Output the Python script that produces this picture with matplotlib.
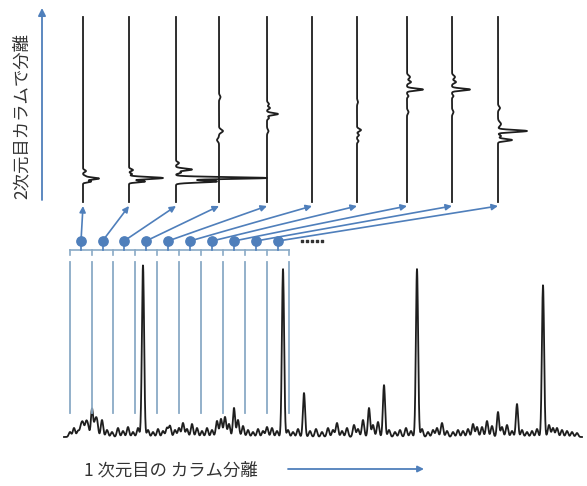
import numpy as np
import matplotlib
matplotlib.use("Agg")
import matplotlib.pyplot as plt

plt.rcParams['font.family'] = ['Noto Sans CJK JP', 'DejaVu Sans']

# ---- data (pixel units of the 587x486 canvas) ----
# first dimension chromatogram: peak position, peak top (y)
base_y = 437
p1_x = [70, 74, 78, 81, 83, 86, 88, 92, 95, 97, 102, 107, 112, 118, 123, 128, 133, 138,
        143, 148, 153, 158, 163, 167, 170, 175, 179, 183, 187, 192, 197, 202, 207, 212,
        217, 221, 225, 229, 234, 238, 243, 248, 253, 258, 263, 267, 272, 277, 283, 288,
        293, 298, 304, 310, 316, 322, 328, 333, 337, 342, 347, 354, 358, 363, 369, 373,
        378, 384, 389, 395, 400, 406, 411, 417, 422, 428, 433, 437, 442, 447, 453, 458,
        463, 468, 473, 477, 482, 487, 492, 498, 502, 507, 512, 517, 522, 527, 532, 537,
        543, 549, 553, 557, 562, 567, 572, 577]
p1_top = [432, 428, 431, 427, 425, 424, 427, 409, 424, 422, 420, 430, 432, 428, 431, 427, 432, 428,
          265, 430, 432, 429, 431, 428, 426, 430, 428, 423, 429, 424, 428, 431, 428, 430,
          421, 419, 417, 424, 408, 420, 426, 430, 432, 429, 431, 427, 428, 431, 269, 430,
          432, 429, 393, 431, 429, 432, 428, 430, 423, 431, 428, 425, 429, 420, 408, 425,
          422, 385, 430, 432, 430, 428, 431, 269, 429, 432, 430, 428, 423, 431, 432, 430,
          431, 429, 424, 427, 427, 421, 426, 412, 427, 425, 431, 404, 430, 432, 431, 429,
          285, 425, 428, 428, 430, 431, 432, 433]

# fraction boundaries on the first dimension, and the transfer points
frac_edges = [70, 92, 113, 135, 157, 179, 201, 223, 245, 267, 289]
bracket_y = 250
dot_y = 241
frac_top, frac_bottom = 262, 413

# second dimension traces: x position, then (y, deflection, width) peaks
trace_x = [83, 129, 176, 219, 267, 312, 357, 407, 452, 498]
trace_top, trace_bottom = 17, 202
trace_peaks = [
    [(171, 3, 1.0), (176, 2, 0.8), (178.5, 16, 1.0), (181.5, 8, 0.8)],
    [(170, 4, 1.0), (174, 3, 0.8), (178, 34, 1.0), (181.5, 16, 0.8)],
    [(163, 3, 1.0), (169.5, 16, 1.0), (172.5, 5, 0.8), (178, 91, 0.9), (181.5, 41, 1.0)],
    [(97, 1.5, 1.5), (131, 4, 1.5), (140, -2, 1.5)],
    [(104, 2, 1.2), (108, 3, 1.0), (114, 11, 1.0), (118, 2, 1.0), (131, 1.5, 1.5)],
    [],
    [(102, 1, 1.5), (130, 4, 1.2), (135, 2, 1.0), (141, 1.5, 1.0)],
    [(77, 3, 1.5), (82, 4, 1.2), (89.5, 16, 1.0), (96, 1.5, 1.0), (112, 1.5, 1.5)],
    [(77, 3, 1.5), (82, 4, 1.2), (89.5, 18, 1.0), (96, 1.5, 1.0), (112, 1.5, 1.5)],
    [(108, 2, 1.5), (124, 3, 2.0), (131, 29, 1.0), (136, 3, 1.0), (140, 14, 1.0)],
]

blue = '#4f7fbb'
frac_blue = '#8aaac6'
ink = '#1e1e1e'

fig = plt.figure(figsize=(5.87, 4.86), dpi=100)
ax = fig.add_axes([0, 0, 1, 1])
ax.set_xlim(0, 587)
ax.set_ylim(486, 0)
ax.axis('off')

# first dimension chromatogram
xs = np.linspace(64, 582, 2600)
ys = np.full_like(xs, float(base_y))
for px, pt in zip(p1_x, p1_top):
    h = base_y - pt
    w = 1.1 if h > 20 else 1.2
    ys -= h * np.exp(-0.5 * ((xs - px) / w) ** 2)
ax.plot(xs, ys, color=ink, lw=1.3)

# fraction lines and bracket
for ex in frac_edges:
    ax.plot([ex, ex], [frac_top, frac_bottom], color=frac_blue, lw=1.3)
    ax.plot([ex, ex], [bracket_y, bracket_y + 5], color=frac_blue, lw=1.2)
ax.plot([frac_edges[0], frac_edges[-1]], [bracket_y, bracket_y], color=frac_blue, lw=1.2)

# transfer points and arrows
mids = [(a + b) / 2 for a, b in zip(frac_edges[:-1], frac_edges[1:])]
for mx, tx in zip(mids, trace_x):
    ax.plot([mx, mx], [dot_y, bracket_y], color=blue, lw=1.2)
    ax.annotate('', xy=(tx, trace_bottom + 4), xytext=(mx, dot_y),
                arrowprops=dict(arrowstyle='-|>', color=blue, lw=1.2,
                                mutation_scale=9, shrinkA=0, shrinkB=0))
ax.scatter(mids, [dot_y] * len(mids), s=45, color=blue, zorder=5)
ax.scatter(np.arange(302, 327, 5), [dot_y] * 5, s=3, color='#333333', marker='s')

# second dimension traces
yy = np.linspace(trace_top, trace_bottom, 1800)
for tx, peaks in zip(trace_x, trace_peaks):
    xx = np.full_like(yy, float(tx))
    for py, d, w in peaks:
        xx += d * np.exp(-0.5 * ((yy - py) / w) ** 2)
    ax.plot(xx, yy, color=ink, lw=1.3)

# axes arrows and labels
ax.annotate('', xy=(42, 8), xytext=(42, 200),
            arrowprops=dict(arrowstyle='-|>', color=blue, lw=1.3,
                            mutation_scale=11, shrinkA=0, shrinkB=0))
ax.text(22, 116, '2次元目カラムで分離', rotation=90, ha='center', va='center',
        fontsize=12.5, color='#333333')
ax.annotate('', xy=(424, 469), xytext=(288, 469),
            arrowprops=dict(arrowstyle='-|>', color=blue, lw=1.3,
                            mutation_scale=9, shrinkA=0, shrinkB=0))
ax.text(84, 470, '1 次元目の カラム分離', ha='left', va='center',
        fontsize=12.5, color='#333333')

fig.savefig('out.png', dpi=100)
